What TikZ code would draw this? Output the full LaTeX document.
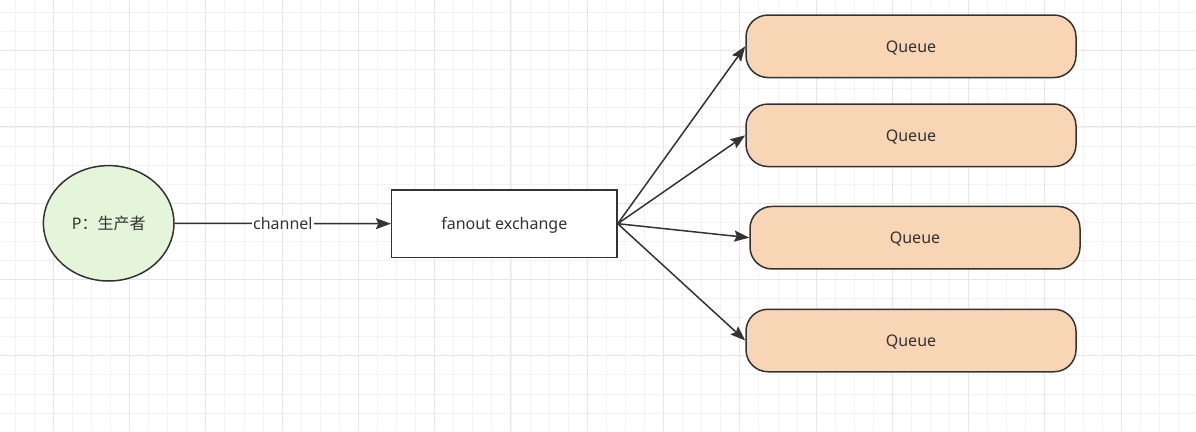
\documentclass[tikz,border=0pt]{standalone}
\usepackage{fontspec}
\setmainfont{Noto Sans}
\newfontfamily\cjk{Noto Sans CJK SC}
\usetikzlibrary{shapes.geometric,arrows.meta}
\definecolor{minorgrid}{HTML}{F3F3F3}
\definecolor{majorgrid}{HTML}{E6E6E6}
\definecolor{ink}{HTML}{333333}
\definecolor{queuefill}{HTML}{F8D5B4}
\definecolor{prodfill}{HTML}{E4F5DA}
\tikzset{
  shapeline/.style={draw=ink, line width=1.5pt, text=ink, font=\fontsize{16}{19}\selectfont, inner sep=0pt, text height=11.5pt, text depth=0pt},
  queuebox/.style={shapeline, rectangle, rounded corners=22pt, fill=queuefill, minimum width=330pt, minimum height=62.5pt},
  conn/.style={draw=ink, line width=1.5pt, -{Stealth[length=15pt, width=11pt, inset=2.5pt]}},
  edgelabel/.style={fill=white, text=ink, inner xsep=1pt, inner ysep=2pt, text height=11pt, text depth=0pt, font=\fontsize{16}{19}\selectfont},
}
\begin{document}
\begin{tikzpicture}[x=1pt, y=-1pt]
\useasboundingbox (0,0) rectangle (1196,431);
\fill[white] (0,0) rectangle (1196,431);
% grid
\foreach \i in {0,...,62} {
  \draw[minorgrid, line width=1pt] ({15.2+19.07*\i},0) -- ({15.2+19.07*\i},431);
}
\foreach \i in {0,...,22} {
  \draw[minorgrid, line width=1pt] (0,{12.6+19.07*\i}) -- (1196,{12.6+19.07*\i});
}
\foreach \i in {0,...,15} {
  \draw[majorgrid, line width=1pt] ({53.3+76.27*\i},0) -- ({53.3+76.27*\i},431);
}
\foreach \i in {0,...,5} {
  \draw[majorgrid, line width=1pt] (0,{50.7+76.27*\i}) -- (1196,{50.7+76.27*\i});
}
% nodes
\node[shapeline, ellipse, fill=prodfill, minimum width=130.6pt, minimum height=115.4pt] (prod) at (108.7,223.3) {P{\cjk：生产者}};
\node[shapeline, rectangle, fill=white, minimum width=225.3pt, minimum height=67.3pt] (exch) at (504.3,223.7) {fanout exchange};
\node[queuebox] (q1) at (911,46.3) {Queue};
\node[queuebox] (q2) at (911,135.3) {Queue};
\node[queuebox] (q3) at (915,237.7) {Queue};
\node[queuebox] (q4) at (911,340.5) {Queue};
% connectors
\draw[conn] (prod.east) -- node[edgelabel] (chlabel) {channel} (exch.west);
\draw[conn] (exch.east) -- (q1.west);
\draw[conn] (exch.east) -- (q2.west);
\draw[conn] (exch.east) -- (q3.west);
\draw[conn] (exch.east) -- (q4.west);
\end{tikzpicture}
\end{document}
